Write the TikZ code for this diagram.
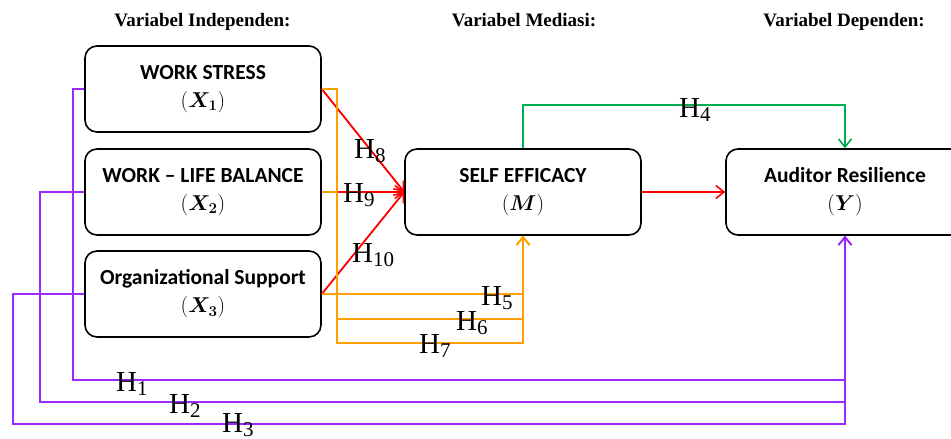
\RequirePackage{fix-cm}
\documentclass[tikz,border=0pt]{standalone}
\usepackage{bm}
\usepackage{fontspec}
\setmainfont{Liberation Serif}
\newfontfamily\boxfont{Carlito}
\newcommand{\hyp}[1]{$\mathrm{H}_{\hbox{\fontsize{21}{21}\selectfont #1}}$}
\usetikzlibrary{arrows.meta}
\definecolor{cpur}{RGB}{155,40,255}
\definecolor{corg}{RGB}{255,160,0}
\definecolor{cgrn}{RGB}{0,176,80}
\definecolor{cred}{RGB}{255,0,0}
\begin{document}
\begin{tikzpicture}[x=1pt,y=-1pt,
  box/.style={draw, line width=1.6pt, rounded corners=12pt, minimum width=236pt, minimum height=86pt, align=center, inner sep=0pt, font=\boxfont\bfseries\fontsize{21.5}{28}\selectfont},
  conn/.style={line width=1.8pt},
  tip/.style={-{Straight Barb[length=8pt,width=13pt,line width=1.6pt]}},
  hlab/.style={anchor=base west, inner sep=0pt, font=\fontsize{29}{32}\selectfont},
  head/.style={anchor=base, inner sep=0pt, font=\bfseries\fontsize{19}{22}\selectfont}]
\clip (0,0) rectangle (951,439);
\fill[white] (0,0) rectangle (951,439);

% headers
\node[head] (h1) at (202.5,27) {Variabel Independen:};
\node[head] (h2) at (524,27) {Variabel Mediasi:};
\node[head] (h3) at (844,27) {Variabel Dependen:};

% boxes
\node[box] (x1) at (203,89) {WORK STRESS\\$(\bm{X}_{\bm{1}})$};
\node[box] (x2) at (203,192) {WORK – LIFE BALANCE\\$(\bm{X}_{\bm{2}})$};
\node[box] (x3) at (203,294) {Organizational Support\\$(\bm{X}_{\bm{3}})$};
\node[box] (m) at (523,192) {SELF EFFICACY\\$(\bm{M})$};
\node[box, minimum width=238pt] (y) at (845,192) {Auditor Resilience\\$(\bm{Y})$};

% helper coordinates
\coordinate (p1) at (73,380);
\coordinate (p2) at (40,402);
\coordinate (p3) at (13,424);
\coordinate (o1) at (337,343);
\coordinate (o2) at (337,319);
\coordinate (g1) at (845,105);

% purple H1-H3
\draw[conn, cpur, tip] (x1.west) -| (p1) -| (y.south);
\draw[conn, cpur, tip] (x2.west) -| (p2) -| (y.south);
\draw[conn, cpur, tip] (x3.west) -| (p3) -| (y.south);

% red H8-H10 and M->Y
\draw[conn, cred, tip] (x1.east) -- (m.west);
\draw[conn, cred, tip] (x2.east) -- (m.west);
\draw[conn, cred, tip] (x3.east) -- (m.west);
\draw[conn, cred, tip] (m.east) -- (y.west);

% orange H5-H7
\draw[conn, corg, tip] (x1.east) -| (o1) -| (m.south);
\draw[conn, corg, tip] (x2.east) -| (o2) -| (m.south);
\draw[conn, corg, tip] (x3.east) -| (m.south);

% green H4
\draw[conn, cgrn, tip] (m.north) |- (g1) -- (y.north);

% labels
\node[hlab] (l1) at (116,391) {\hyp{1}};
\node[hlab] (l2) at (169,413) {\hyp{2}};
\node[hlab] (l3) at (222,432) {\hyp{3}};
\node[hlab] (l4) at (679,117) {\hyp{4}};
\node[hlab] (l5) at (481,305) {\hyp{5}};
\node[hlab] (l6) at (456,330) {\hyp{6}};
\node[hlab] (l7) at (419,353) {\hyp{7}};
\node[hlab] (l8) at (354,158) {\hyp{8}};
\node[hlab] (l9) at (343,202) {\hyp{9}};
\node[hlab] (l10) at (352,262) {\hyp{10}};
\end{tikzpicture}
\end{document}
